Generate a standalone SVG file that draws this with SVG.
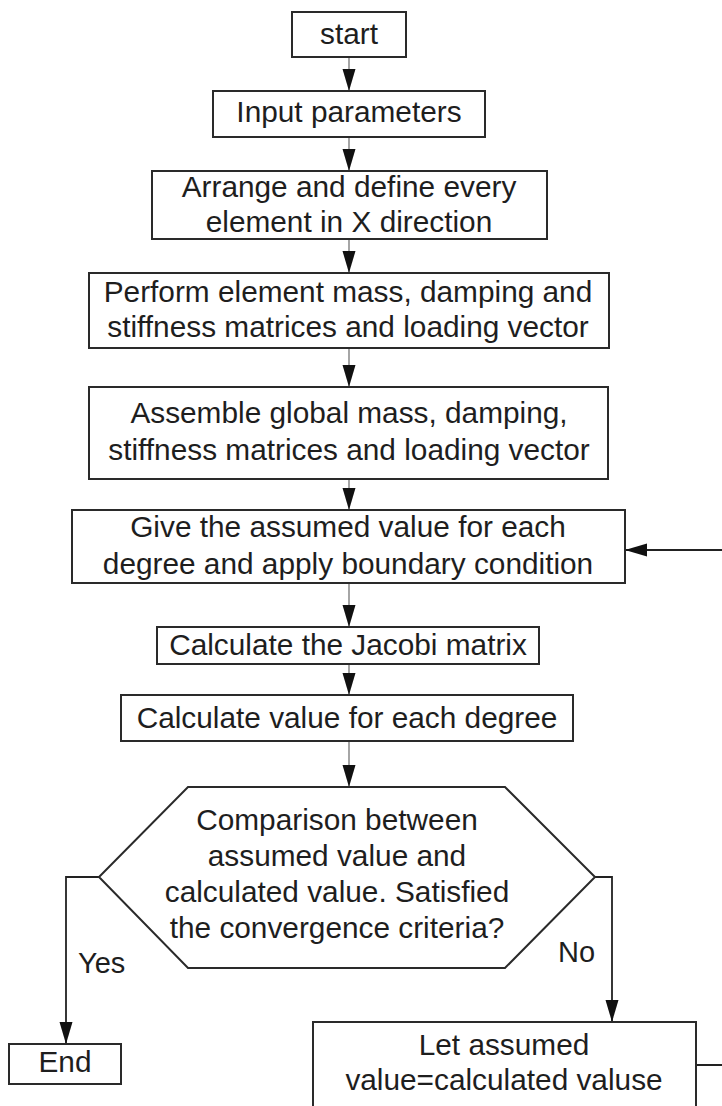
<svg xmlns="http://www.w3.org/2000/svg" width="722" height="1106" viewBox="0 0 722 1106">
<style>
.box{fill:#fff;stroke:#2a2a2a;stroke-width:2}
.t{font-family:"Liberation Sans",Arial,sans-serif;font-size:29.8px;fill:#1e1e1e;text-anchor:middle}
.lbl{font-family:"Liberation Sans",Arial,sans-serif;font-size:29px;fill:#1e1e1e}
.c{fill:none;stroke:#6a6a6a;stroke-width:1.2}
.cd{fill:none;stroke:#222;stroke-width:1.8}
</style>
<defs>
<marker id="ah" markerUnits="userSpaceOnUse" markerWidth="23" markerHeight="14" refX="22" refY="6.5" orient="auto">
<path d="M0,0 L22,6.5 L0,13 z" fill="#111"/>
</marker>
</defs>
<rect width="722" height="1106" fill="#fff"/>
<g id="connectors">
<line class="c" x1="349" y1="57" x2="349" y2="91" marker-end="url(#ah)"/>
<line class="c" x1="349" y1="137" x2="349" y2="171" marker-end="url(#ah)"/>
<line class="c" x1="349" y1="239" x2="349" y2="273" marker-end="url(#ah)"/>
<line class="c" x1="349" y1="348" x2="349" y2="387" marker-end="url(#ah)"/>
<line class="c" x1="349" y1="479" x2="349" y2="510" marker-end="url(#ah)"/>
<line class="c" x1="349" y1="583" x2="349" y2="627" marker-end="url(#ah)"/>
<line class="c" x1="349" y1="664" x2="349" y2="695" marker-end="url(#ah)"/>
<line class="c" x1="349" y1="741" x2="349" y2="787" marker-end="url(#ah)"/>
<polyline class="cd" points="99,877 66,877 66,1044" marker-end="url(#ah)"/>
<polyline class="cd" points="595,877 612,877 612,1022" marker-end="url(#ah)"/>
<polyline class="cd" points="696,1065 726,1065 726,550 625,550" marker-end="url(#ah)"/>
<text class="lbl" x="78" y="973">Yes</text>
<text class="lbl" x="558" y="962">No</text>
</g>
<g id="start">
<rect class="box" x="292" y="12" width="114" height="45"/>
<text class="t" x="349" y="44">start</text>
</g>
<g id="input">
<rect class="box" x="213" y="91" width="272" height="46"/>
<text class="t" x="349" y="122">Input parameters</text>
</g>
<g id="arrange">
<rect class="box" x="152" y="171" width="395" height="68"/>
<text class="t" x="349" y="197">Arrange and define every</text>
<text class="t" x="349" y="232">element in X direction</text>
</g>
<g id="perform">
<rect class="box" x="89" y="273" width="520" height="75"/>
<text class="t" x="348" y="302">Perform element mass, damping and</text>
<text class="t" x="348" y="337">stiffness matrices and loading vector</text>
</g>
<g id="assemble">
<rect class="box" x="89" y="387" width="519" height="92"/>
<text class="t" x="349" y="423">Assemble global mass, damping,</text>
<text class="t" x="349" y="460">stiffness matrices and loading vector</text>
</g>
<g id="give">
<rect class="box" x="72" y="510" width="553" height="73"/>
<text class="t" x="348" y="537">Give the assumed value for each</text>
<text class="t" x="348" y="574">degree and apply boundary condition</text>
</g>
<g id="jacobi">
<rect class="box" x="157" y="627" width="382" height="37"/>
<text class="t" x="348" y="655">Calculate the Jacobi matrix</text>
</g>
<g id="calc">
<rect class="box" x="121" y="695" width="452" height="46"/>
<text class="t" x="347" y="728">Calculate value for each degree</text>
</g>
<g id="decision">
<polygon class="box" points="188,787 505,787 595,877 505,968 188,968 99,877"/>
<text class="t" x="337" y="830">Comparison between</text>
<text class="t" x="337" y="866">assumed value and</text>
<text class="t" x="337" y="902">calculated value. Satisfied</text>
<text class="t" x="337" y="938">the convergence criteria?</text>
</g>
<g id="end">
<rect class="box" x="9" y="1044" width="112" height="40"/>
<text class="t" x="65" y="1072">End</text>
</g>
<g id="let">
<rect class="box" x="313" y="1022" width="383" height="100"/>
<text class="t" x="504" y="1055">Let assumed</text>
<text class="t" x="504" y="1090">value=calculated valuse</text>
</g>
</svg>
